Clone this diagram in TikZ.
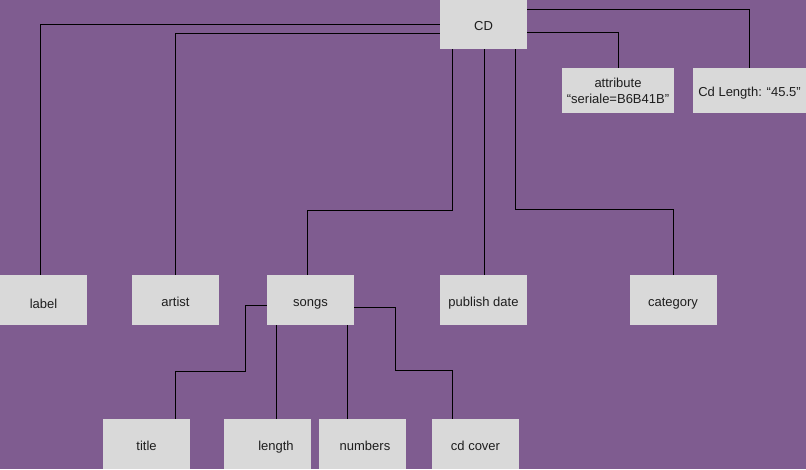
\documentclass[tikz,border=0pt]{standalone}
\usepackage{fontspec}
\setmainfont{Liberation Sans}
\definecolor{bgpurple}{HTML}{7F5C90}
\definecolor{boxgray}{HTML}{D9D9D9}
\definecolor{txt}{HTML}{1E1E1E}
\begin{document}
\begin{tikzpicture}[x=1pt,y=-1pt,
  box/.style={fill=boxgray,draw=none,inner sep=0pt,align=center,text=txt,
    font=\fontsize{13}{16}\selectfont},
  onebox/.style={box,text height=12.5pt,text depth=0pt},
  wire/.style={draw=black,line width=0.9pt}]
\fill[bgpurple] (0,0) rectangle (806,469);
\useasboundingbox (0,0) rectangle (806,469);
% nodes
\node[onebox,minimum width=87pt,minimum height=49pt] (CD) at (483.5,24.5) {CD};
\node[box,minimum width=112pt,minimum height=45pt] (attr) at (618,90.5) {attribute\\“seriale=B6B41B”};
\node[onebox,minimum width=113pt,minimum height=45pt] (cdlen) at (749.5,90.5) {Cd Length: “45.5”};
\node[onebox,minimum width=87pt,minimum height=50pt] (label) at (43.5,300) {\raisebox{-2pt}{label}};
\node[onebox,minimum width=87pt,minimum height=50pt] (artist) at (175.5,300) {artist};
\node[onebox,minimum width=87pt,minimum height=50pt] (songs) at (310.5,300) {songs};
\node[onebox,minimum width=87pt,minimum height=50pt] (publish) at (483.5,300) {publish date};
\node[onebox,minimum width=87pt,minimum height=50pt] (category) at (673,300) {category};
\node[onebox,minimum width=87pt,minimum height=50pt] (title) at (146.5,444) {title};
\node[onebox,minimum width=87pt,minimum height=50pt] (length) at (267.5,444) {\hspace*{17pt}length};
\node[onebox,minimum width=87pt,minimum height=50pt] (numbers) at (362.5,444) {\hspace*{5pt}numbers};
\node[onebox,minimum width=87pt,minimum height=50pt] (cdcover) at (475.5,444) {cd cover};
% connectors from CD
\draw[wire] (CD.west) -| ([xshift=-3.5pt]label.north);
\draw[wire] ([yshift=-8.5pt]CD.west) -| (artist.north);
\draw[wire] ([yshift=15.5pt]CD.east) -| (cdlen.north);
\draw[wire] ([yshift=-7.5pt]CD.east) -| (attr.north);
\draw[wire] ([xshift=-31.5pt]CD.south) -- ++(0,161) -| ([xshift=-3.5pt]songs.north);
\draw[wire] ([xshift=0.5pt]CD.south) -- ([xshift=0.5pt]publish.north);
\draw[wire] ([xshift=31.5pt]CD.south) -- ++(0,160) -| (category.north);
% connectors from songs
\draw[wire] ([yshift=-5pt]songs.west) -- ++(-21,0) -- ++(0,66) -| ([xshift=28.5pt]title.north);
\draw[wire] ([xshift=-34.5pt]songs.south) -- ([xshift=8.5pt]length.north);
\draw[wire] ([xshift=36.5pt]songs.south) -- ([xshift=-15.5pt]numbers.north);
\draw[wire] ([yshift=-7pt]songs.east) -- ++(41,0) -- ++(0,63) -| ([xshift=-23.5pt]cdcover.north);
\end{tikzpicture}
\end{document}
